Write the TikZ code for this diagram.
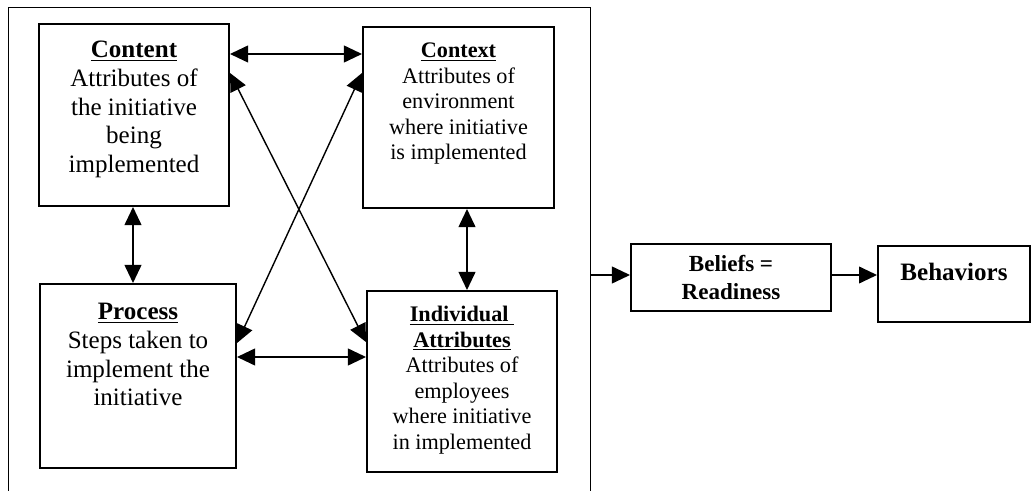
\documentclass[tikz,border=0pt]{standalone}
\usepackage{fontspec}
\setmainfont{Liberation Serif}
\usetikzlibrary{arrows.meta}

\tikzset{
  box/.style={draw, line width=1.4pt, inner sep=0pt},
  bigtext/.style={font=\fontsize{17.8}{20.3}\selectfont},
  smalltext/.style={font=\fontsize{15.8}{18.1}\selectfont},
  link/.style={line width=1pt, -{Triangle[length=0.45cm,width=0.42cm]}},
  twoway/.style={line width=1pt, {Triangle[length=0.45cm,width=0.42cm]}-{Triangle[length=0.45cm,width=0.42cm]}}
}
% width, height, first baseline, text
\newcommand{\boxbody}[4]{\parbox[c][#2][t]{#1}{\centering\rule{0pt}{#3}#4}}

\begin{document}
\begin{tikzpicture}[x=0.025cm, y=-0.025cm]
    \useasboundingbox (0,0) rectangle (1031,491);

    % Outer frame, open at the bottom
    \draw[line width=1pt] (8.5,491) -- (8.5,7.5) -- (590.5,7.5) -- (590.5,491);

    % The four factors
    \node[box, bigtext] (content) at (134,115)
        {\boxbody{4.75cm}{4.55cm}{0.85cm}{\underline{\textbf{Content}}\\ Attributes of\\ the initiative\\ being\\ implemented}};
    \node[box, smalltext] (context) at (458.5,117.5)
        {\boxbody{4.775cm}{4.525cm}{0.775cm}{\underline{\textbf{Context}}\\ Attributes of\\ environment\\ where initiative\\ is implemented}};
    \node[box, bigtext] (process) at (138,376)
        {\boxbody{4.9cm}{4.6cm}{0.9cm}{\underline{\textbf{Process}}\\ Steps taken to\\ implement the\\ initiative}};
    \node[box, smalltext] (individual) at (462,381.5)
        {\boxbody{4.75cm}{4.525cm}{0.775cm}{\underline{\textbf{Individual\ }}\\ \underline{\textbf{Attributes}}\\ Attributes of\\ employees\\ where initiative\\ in implemented}};

    % Outcomes
    \node[box, align=center, minimum width=5cm, minimum height=1.675cm,
          font=\bfseries\fontsize{16.4}{19.9}\selectfont] (beliefs) at (731,277.5) {Beliefs =\\ Readiness};
    \node[box, bigtext] (behaviors) at (954,284)
        {\boxbody{3.8cm}{1.9cm}{0.85cm}{\textbf{Behaviors}}};

    % Links between the factors
    \draw[twoway] (content.east |- 0,54) -- (context.west |- 0,54);
    \draw[twoway] (content.east |- 0,73) -- (individual.west |- 0,342);
    \draw[twoway] (context.west |- 0,73) -- (process.east |- 0,343);
    \draw[twoway] (process.east |- 0,357) -- (individual.west |- 0,357);
    \draw[twoway] (content.south -| 133,0) -- (process.north -| 133,0);
    \draw[twoway] (context.south -| 467,0) -- (individual.north -| 467,0);

    % Frame to outcomes
    \coordinate (frameout) at (590.5,275);
    \draw[link] (frameout) -- (beliefs.west |- frameout);
    \draw[link] (beliefs.east |- frameout) -- (behaviors.west |- frameout);
\end{tikzpicture}
\end{document}
